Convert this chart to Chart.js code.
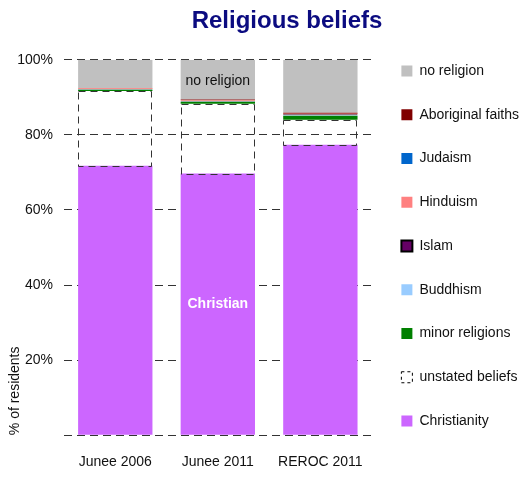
<!DOCTYPE html>
<html lang="en">
<head>
    <meta charset="UTF-8">
    <title>Religious beliefs</title>
    <script src="https://cdn.jsdelivr.net/npm/chart.js"></script>
    <style>
        html, body {
            margin: 0;
            padding: 0;
            background-color: #ffffff;
        }

        .chart-container {
            width: 529px;
            height: 482px;
            position: relative;
        }
    </style>
</head>
<body>
    <div class="chart-container">
        <canvas id="beliefsChart"></canvas>
    </div>

    <script>
        // Data (percent of residents)
        const places = ['Junee 2006', 'Junee 2011', 'REROC 2011'];
        const christianity = [71.8, 69.7, 77.4];
        const unstated = [19.9, 18.6, 6.6];
        const minorReligions = [0.3, 0.5, 1.1];
        const buddhism = [0.1, 0.1, 0.1];
        const islam = [0.1, 0.2, 0.3];
        const hinduism = [0.2, 0.2, 0.1];
        const judaism = [0.0, 0.0, 0.0];
        const aboriginal = [0.1, 0.1, 0.3];
        const noReligion = [7.5, 10.6, 14.1];
        const yTicks = [0, 20, 40, 60, 80, 100];

        const FONT = "'Liberation Sans', Arial, Helvetica, sans-serif";

        // Dashed outline for "unstated beliefs", in-bar labels and the title
        const extrasPlugin = {
            id: 'extras',
            afterDatasetsDraw(chart) {
                const ctx = chart.ctx;
                chart.data.datasets.forEach((ds, i) => {
                    const meta = chart.getDatasetMeta(i);
                    if (ds.label === 'unstated beliefs') {
                        ctx.save();
                        ctx.strokeStyle = '#333';
                        ctx.lineWidth = 1;
                        ctx.setLineDash([7, 5]);
                        meta.data.forEach(bar => {
                            const left = Math.round(bar.x - bar.width / 2) + 0.5;
                            const top = Math.round(Math.min(bar.y, bar.base)) + 0.5;
                            const h = Math.round(Math.abs(bar.base - bar.y));
                            const w = Math.round(bar.width) - 1;
                            ctx.strokeRect(left, top, w, h);
                        });
                        ctx.restore();
                    }
                });

                // labels inside the Junee 2011 bar
                ctx.save();
                ctx.textAlign = 'center';
                ctx.textBaseline = 'middle';
                const christ = chart.getDatasetMeta(0).data[1];
                ctx.fillStyle = '#ffffff';
                ctx.font = 'bold 14px ' + FONT;
                ctx.fillText('Christian', christ.x, (christ.y + christ.base) / 2);
                const noRel = chart.getDatasetMeta(8).data[1];
                ctx.fillStyle = '#111';
                ctx.font = '14px ' + FONT;
                ctx.fillText('no religion', noRel.x, (noRel.y + noRel.base) / 2 + 1);
                ctx.restore();
            },
            afterDraw(chart) {
                const ctx = chart.ctx;
                ctx.save();
                ctx.fillStyle = '#0b0b80';
                ctx.font = 'bold 24px ' + FONT;
                ctx.textAlign = 'center';
                ctx.textBaseline = 'middle';
                ctx.fillText('Religious beliefs', 287, 21);
                ctx.restore();
            }
        };

        const ctx = document.getElementById('beliefsChart').getContext('2d');
        new Chart(ctx, {
            type: 'bar',
            data: {
                labels: places,
                datasets: [
                    { label: 'Christianity', data: christianity, backgroundColor: '#cc66ff' },
                    { label: 'unstated beliefs', data: unstated, backgroundColor: 'rgba(255,255,255,0)' },
                    { label: 'minor religions', data: minorReligions, backgroundColor: '#008000' },
                    { label: 'Buddhism', data: buddhism, backgroundColor: '#99ccff' },
                    { label: 'Islam', data: islam, backgroundColor: '#660066', borderColor: '#000', borderWidth: 1 },
                    { label: 'Hinduism', data: hinduism, backgroundColor: '#ff8080' },
                    { label: 'Judaism', data: judaism, backgroundColor: '#0066cc' },
                    { label: 'Aboriginal faiths', data: aboriginal, backgroundColor: '#800000' },
                    { label: 'no religion', data: noReligion, backgroundColor: '#c0c0c0' }
                ]
            },
            options: {
                responsive: true,
                maintainAspectRatio: false,
                animation: false,
                barPercentage: 0.725,
                categoryPercentage: 1,
                layout: {
                    padding: { top: 10, right: 0, bottom: 0, left: 0 }
                },
                plugins: {
                    // empty title only reserves the space; text is drawn by the plugin
                    title: {
                        display: true,
                        text: '',
                        font: { family: FONT, size: 24 },
                        padding: { top: 0, bottom: 21 }
                    },
                    tooltip: { enabled: false },
                    legend: {
                        position: 'right',
                        reverse: true,
                        maxWidth: 200,
                        labels: {
                            boxWidth: 11,
                            boxHeight: 11,
                            padding: 29.75,
                            color: '#111',
                            font: { family: FONT, size: 14 },
                            generateLabels(chart) {
                                const items = Chart.defaults.plugins.legend.labels.generateLabels(chart);
                                items.forEach(item => {
                                    item.lineWidth = 0;
                                    if (item.text === 'unstated beliefs') {
                                        item.fillStyle = '#ffffff';
                                        item.strokeStyle = '#000';
                                        item.lineWidth = 1;
                                        item.lineDash = [3, 3];
                                    }
                                    if (item.text === 'Islam') {
                                        item.strokeStyle = '#000';
                                        item.lineWidth = 2;
                                    }
                                });
                                return items;
                            }
                        }
                    }
                },
                scales: {
                    x: {
                        stacked: true,
                        grid: { display: false },
                        border: { display: false },
                        ticks: {
                            color: '#111',
                            padding: 11,
                            font: { family: FONT, size: 14 }
                        }
                    },
                    y: {
                        stacked: true,
                        min: 0,
                        max: 100,
                        afterBuildTicks(axis) {
                            axis.ticks = yTicks.map(v => ({ value: v }));
                        },
                        grid: {
                            color: '#333',
                            drawTicks: false,
                            lineWidth: 1
                        },
                        border: { display: false, dash: [8, 5] },
                        ticks: {
                            color: '#111',
                            padding: 11,
                            font: { family: FONT, size: 14 },
                            callback: v => (v === 0 ? '' : v + '%')
                        },
                        title: {
                            display: true,
                            text: '% of residents',
                            align: 'start',
                            color: '#111',
                            padding: { top: 7, bottom: -17.6 },
                            font: { family: FONT, size: 14 }
                        }
                    }
                }
            },
            plugins: [extrasPlugin]
        });
    </script>
</body>
</html>
